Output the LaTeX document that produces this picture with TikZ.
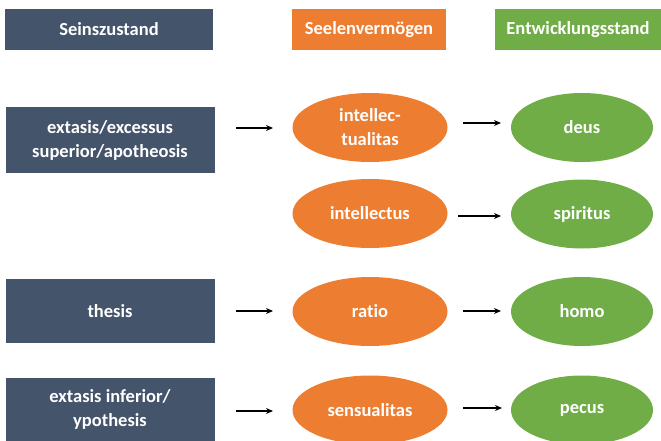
\documentclass[tikz,border=0pt]{standalone}
\usepackage{fontspec}
\setmainfont{Carlito}[RawFeature={-liga;-clig;-dlig}]
\usetikzlibrary{shapes.geometric,arrows.meta}
\definecolor{slate}{HTML}{44546A}
\definecolor{orng}{HTML}{ED7D31}
\definecolor{grn}{HTML}{70AD47}
\begin{document}
\begin{tikzpicture}[x=1pt,y=-1pt,
  lbl/.style={text=white, font=\bfseries\fontsize{18.5}{24}\selectfont, align=center, inner sep=0pt},
  sbox/.style={lbl, fill=slate, minimum width=209pt},
  obox/.style={lbl, fill=orng},
  gbox/.style={lbl, fill=grn},
  oell/.style={lbl, ellipse, fill=orng, minimum width=155pt, minimum height=69pt},
  gell/.style={lbl, ellipse, fill=grn, minimum width=142pt, minimum height=69pt},
  arr/.style={-{Stealth[length=7pt,width=6pt]}, line width=1.2pt, black}]
\useasboundingbox (0,0) rectangle (661,441);
% headers
\node[sbox, minimum width=208pt, minimum height=41pt] (h1) at (109,29.5) {Seinszustand};
\node[obox, minimum width=154pt, minimum height=41pt] (h2) at (369,29.5) {Seelenvermögen};
\node[gbox, minimum width=166pt, minimum height=41pt] (h3) at (578,29.5) {Entwicklungsstand};
% left boxes
\node[sbox, minimum height=66pt] (s1) at (110,140) {extasis/excessus\\superior/apotheosis};
\node[sbox, minimum height=64pt] (s2) at (110,311) {thesis};
\node[sbox, minimum height=63pt] (s3) at (110,409.5) {extasis inferior/\\ypothesis};
% orange ellipses
\node[oell] (o1) at (370,127.5) {intellec-\\tualitas};
\node[oell] (o2) at (370,213.5) {intellectus};
\node[oell] (o3) at (370,311.5) {ratio};
\node[oell] (o4) at (370,410) {sensualitas};
% green ellipses
\node[gell] (g1) at (582,127.5) {deus};
\node[gell] (g2) at (582,214) {spiritus};
\node[gell] (g3) at (582,311.5) {homo};
\node[gell] (g4) at (582,410) {pecus};
% arrows
\coordinate (a1s) at (236,128); \coordinate (a1e) at (273,128);
\coordinate (a2s) at (236,311); \coordinate (a2e) at (273,311);
\coordinate (a3s) at (236,411); \coordinate (a3e) at (273,411);
\coordinate (b1s) at (463,123); \coordinate (b1e) at (501,123);
\coordinate (b2s) at (458,216); \coordinate (b2e) at (501,216);
\coordinate (b3s) at (463,311); \coordinate (b3e) at (501,311);
\coordinate (b4s) at (463,408); \coordinate (b4e) at (502,408);
\draw[arr] (a1s) -- (a1e);
\draw[arr] (a2s) -- (a2e);
\draw[arr] (a3s) -- (a3e);
\draw[arr] (b1s) -- (b1e);
\draw[arr] (b2s) -- (b2e);
\draw[arr] (b3s) -- (b3e);
\draw[arr] (b4s) -- (b4e);
\end{tikzpicture}
\end{document}
